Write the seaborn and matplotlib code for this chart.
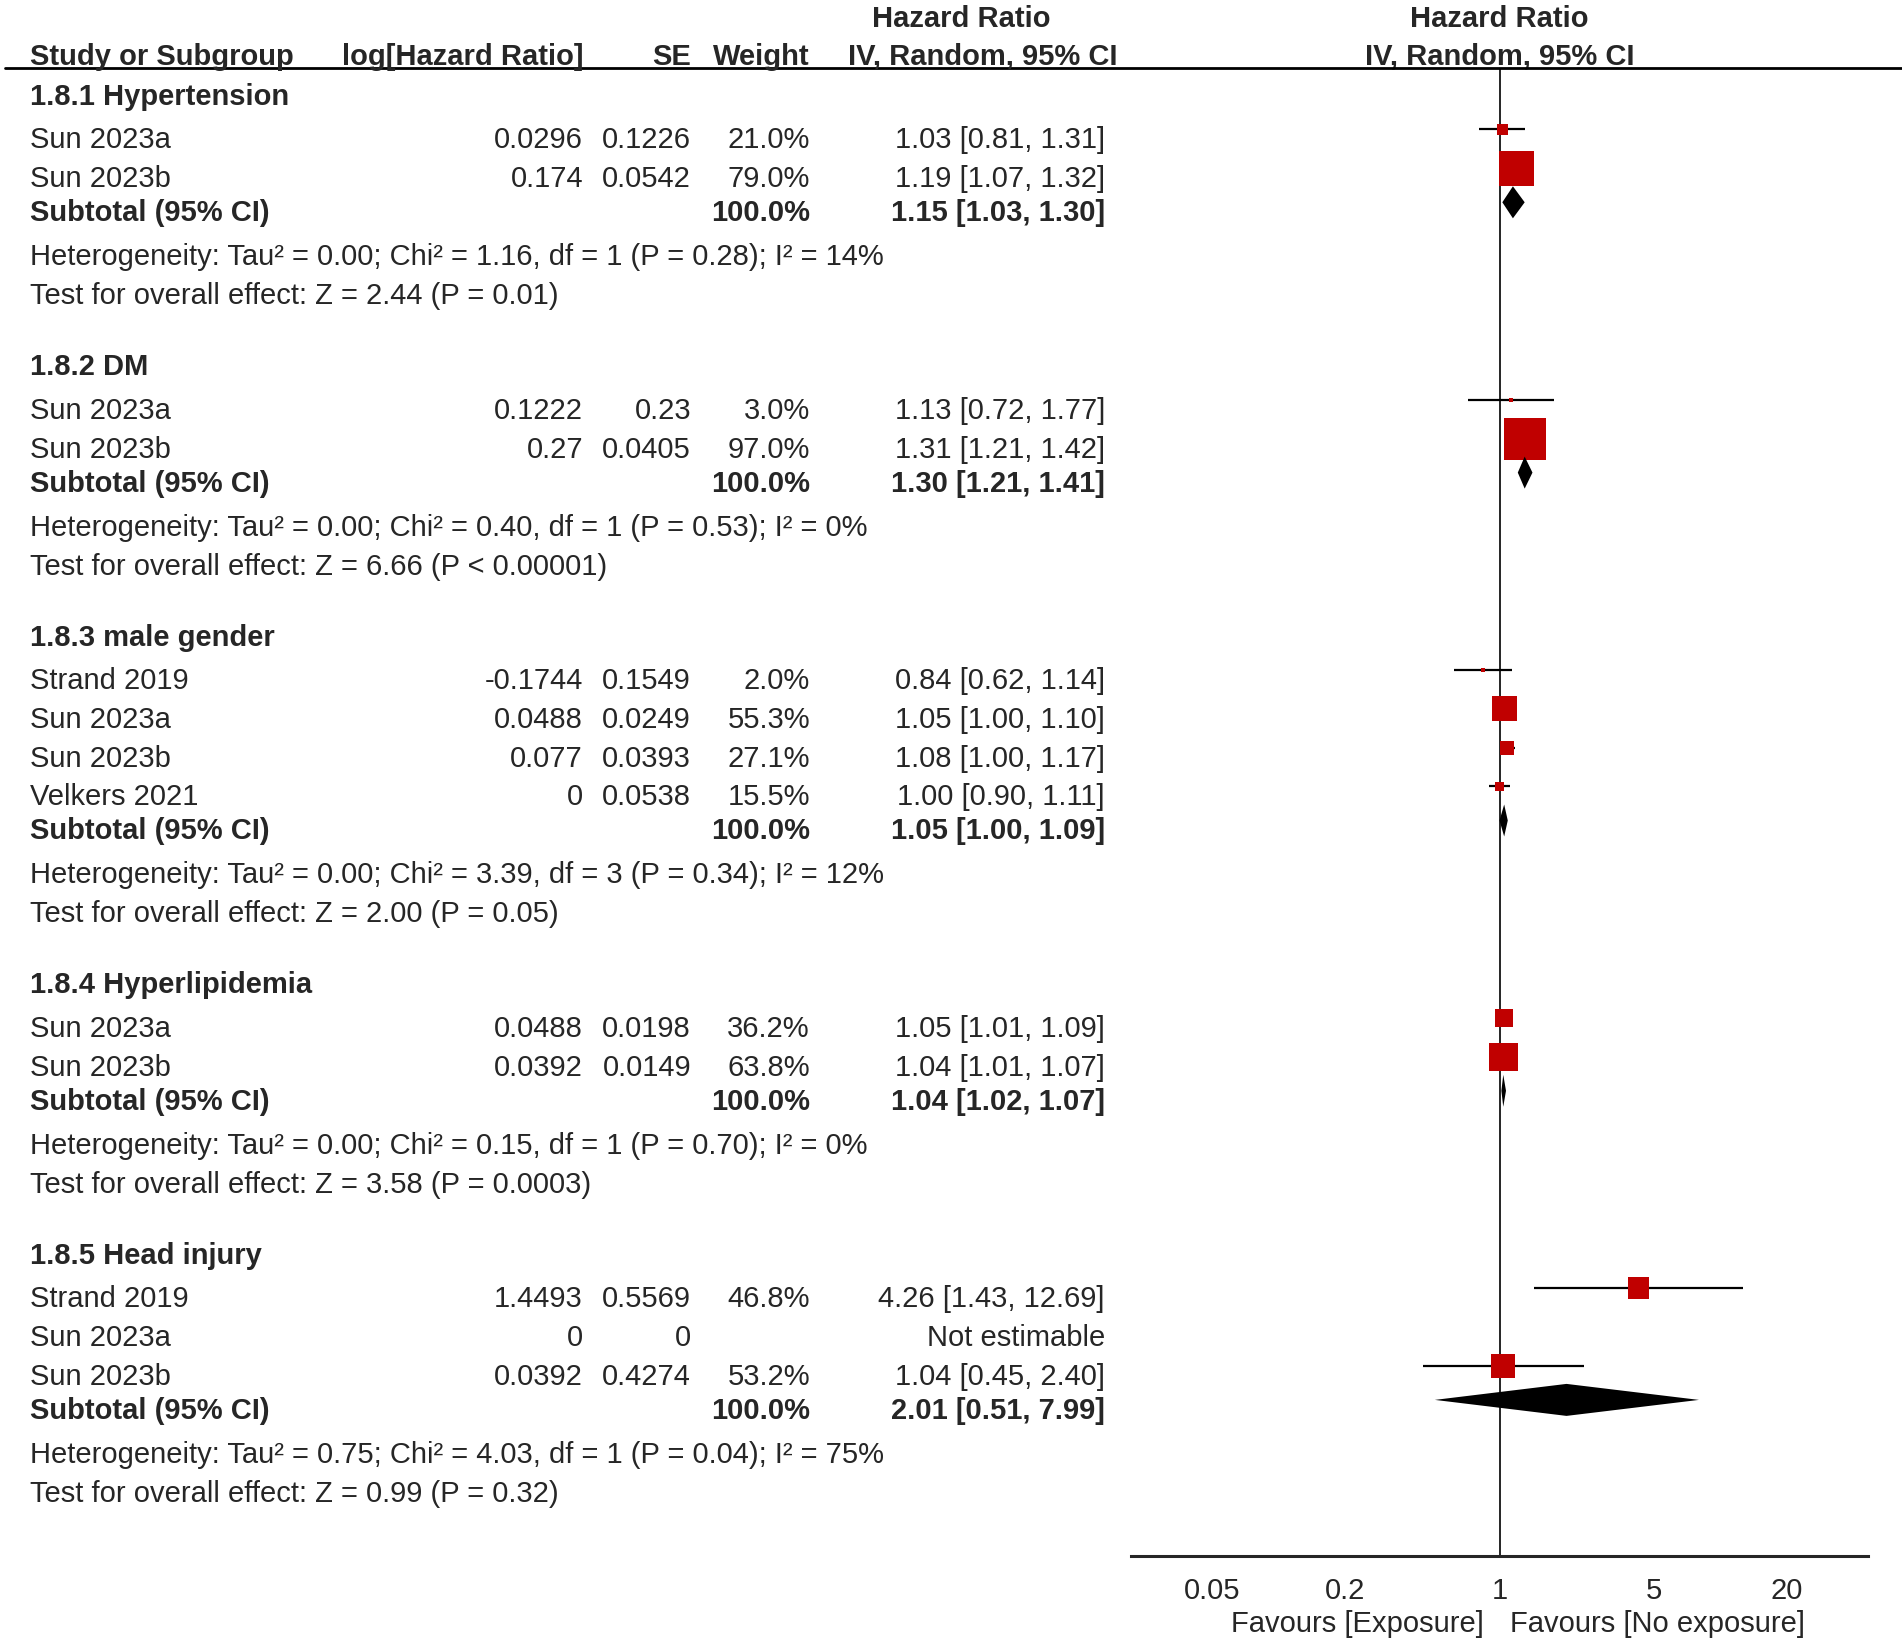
"""
Forest plot: risk factors (hazard ratios), RevMan style, drawn with seaborn/matplotlib.
"""

import numpy as np
import pandas as pd
import matplotlib
matplotlib.use("Agg")
import matplotlib.pyplot as plt
import matplotlib.transforms as mtransforms
from matplotlib.lines import Line2D
from matplotlib.ticker import NullLocator
import seaborn as sns

# ── Data ───────────────────────────────────────────────────────────────────────

GROUPS = ["1.8.1 Hypertension", "1.8.2 DM", "1.8.3 male gender",
          "1.8.4 Hyperlipidemia", "1.8.5 Head injury"]

STUDY_GROUP = [0, 0, 1, 1, 2, 2, 2, 2, 3, 3, 4, 4, 4]
STUDY_NAMES = ["Sun 2023a", "Sun 2023b",
               "Sun 2023a", "Sun 2023b",
               "Strand 2019", "Sun 2023a", "Sun 2023b", "Velkers 2021",
               "Sun 2023a", "Sun 2023b",
               "Strand 2019", "Sun 2023a", "Sun 2023b"]
LOG_HR = [0.0296, 0.174, 0.1222, 0.27, -0.1744, 0.0488, 0.077, 0,
          0.0488, 0.0392, 1.4493, 0, 0.0392]
SE = [0.1226, 0.0542, 0.23, 0.0405, 0.1549, 0.0249, 0.0393, 0.0538,
      0.0198, 0.0149, 0.5569, 0, 0.4274]
WEIGHT = [21.0, 79.0, 3.0, 97.0, 2.0, 55.3, 27.1, 15.5, 36.2, 63.8,
          46.8, np.nan, 53.2]
HR = [1.03, 1.19, 1.13, 1.31, 0.84, 1.05, 1.08, 1.00, 1.05, 1.04,
      4.26, np.nan, 1.04]
HR_LO = [0.81, 1.07, 0.72, 1.21, 0.62, 1.00, 1.00, 0.90, 1.01, 1.01,
         1.43, np.nan, 0.45]
HR_HI = [1.31, 1.32, 1.77, 1.42, 1.14, 1.10, 1.17, 1.11, 1.09, 1.07,
         12.69, np.nan, 2.40]

SUB_HR = [1.15, 1.30, 1.05, 1.04, 2.01]
SUB_LO = [1.03, 1.21, 1.00, 1.02, 0.51]
SUB_HI = [1.30, 1.41, 1.09, 1.07, 7.99]

HETEROGENEITY = [
    "Heterogeneity: Tau² = 0.00; Chi² = 1.16, df = 1 (P = 0.28); I² = 14%",
    "Heterogeneity: Tau² = 0.00; Chi² = 0.40, df = 1 (P = 0.53); I² = 0%",
    "Heterogeneity: Tau² = 0.00; Chi² = 3.39, df = 3 (P = 0.34); I² = 12%",
    "Heterogeneity: Tau² = 0.00; Chi² = 0.15, df = 1 (P = 0.70); I² = 0%",
    "Heterogeneity: Tau² = 0.75; Chi² = 4.03, df = 1 (P = 0.04); I² = 75%",
]
OVERALL_EFFECT = [
    "Test for overall effect: Z = 2.44 (P = 0.01)",
    "Test for overall effect: Z = 6.66 (P < 0.00001)",
    "Test for overall effect: Z = 2.00 (P = 0.05)",
    "Test for overall effect: Z = 3.58 (P = 0.0003)",
    "Test for overall effect: Z = 0.99 (P = 0.32)",
]

X_TICKS = [0.05, 0.2, 1, 5, 20]
X_TICK_LABELS = ["0.05", "0.2", "1", "5", "20"]
FAVOURS_LEFT = "Favours [Exposure]"
FAVOURS_RIGHT = "Favours [No exposure]"

# ── Layout (pixels of a 1902 x 1644 canvas) ───────────────────────────────────

W, H = 1902, 1644
TEXT_COLOR = "#262626"
RED = "#C00000"
FS = 21

HEADER_LINE_Y = 68
AXIS_Y = 1556
PLOT_LEFT, PLOT_RIGHT = 1131, 1868

COL_NAME = 30
COL_LOGHR = 583
COL_SE = 691
COL_WEIGHT = 810
COL_CI = 1105

STEP_HEADER = 43.5
STEP_STUDY = 38.8
STEP_SUBTOTAL = 34
STEP_HET = 44
STEP_TEST = 39
STEP_GROUP = 71
MARK_SHIFT = -9
BASE_SHIFT = 10


def row_positions():
    """Walk the table top to bottom and give the y of every row."""
    y = 95
    header_y, study_y, sub_y, het_y, test_y = [], [], [], [], []
    for g in range(len(GROUPS)):
        header_y.append(y)
        y += STEP_HEADER
        idx = [i for i, s in enumerate(STUDY_GROUP) if s == g]
        for k, _ in enumerate(idx):
            study_y.append(y)
            if k < len(idx) - 1:
                y += STEP_STUDY
        y += STEP_SUBTOTAL
        sub_y.append(y)
        y += STEP_HET
        het_y.append(y)
        y += STEP_TEST
        test_y.append(y)
        y += STEP_GROUP
    return header_y, study_y, sub_y, het_y, test_y


def fmt_ci(hr, lo, hi):
    return f"{hr:.2f} [{lo:.2f}, {hi:.2f}]"


def main():
    sns.set_style("white")
    plt.rcParams["font.family"] = ["Liberation Sans", "DejaVu Sans"]

    header_y, study_y, sub_y, het_y, test_y = row_positions()

    studies = pd.DataFrame({
        "group": STUDY_GROUP, "name": STUDY_NAMES, "loghr": LOG_HR, "se": SE,
        "weight": WEIGHT, "hr": HR, "lo": HR_LO, "hi": HR_HI, "y": study_y,
    })
    studies["mark_y"] = studies["y"] + MARK_SHIFT
    side_px = 2.8 + 0.404 * studies["weight"]
    studies["s"] = (side_px * 0.72) ** 2

    fig = plt.figure(figsize=(W / 100, H / 100), dpi=100)
    ax = fig.add_axes([PLOT_LEFT / W, 1 - AXIS_Y / H,
                       (PLOT_RIGHT - PLOT_LEFT) / W, (AXIS_Y - HEADER_LINE_Y) / H])
    ax.set_xscale("log")
    ax.set_xlim(0.0215, 1 / 0.0215)
    ax.set_ylim(AXIS_Y, HEADER_LINE_Y)

    # forest marks
    ax.axvline(1, color="black", lw=1.2, zorder=1)
    est = studies.dropna(subset=["hr"])
    ax.hlines(est["mark_y"], est["lo"], est["hi"], color="black", lw=1.6, zorder=2)
    sns.scatterplot(data=est, x="hr", y="mark_y", marker="s", s=est["s"].values,
                    color=RED, linewidth=0, ax=ax, zorder=3, legend=False)
    for g in range(len(GROUPS)):
        yc = sub_y[g] + MARK_SHIFT
        ax.fill([SUB_LO[g], SUB_HR[g], SUB_HI[g], SUB_HR[g]],
                [yc, yc - 16, yc, yc + 16], color="black", lw=0, zorder=3)

    # axis styling
    for side in ["top", "left", "right"]:
        ax.spines[side].set_visible(False)
    ax.spines["bottom"].set_linewidth(2.2)
    ax.set_xticks(X_TICKS)
    ax.set_xticklabels(X_TICK_LABELS)
    ax.xaxis.set_minor_locator(NullLocator())
    ax.set_yticks([])
    ax.set_xlabel("")
    ax.set_ylabel("")
    ax.tick_params(axis="x", direction="inout", length=14, width=2.0,
                   labelsize=FS, labelcolor=TEXT_COLOR, pad=8)
    ax.patch.set_alpha(0)

    ax.annotate(FAVOURS_LEFT, xy=(1, 0), xycoords=("data", "axes fraction"),
                xytext=(-16, -(1622 + BASE_SHIFT - AXIS_Y)), textcoords="offset pixels",
                ha="right", va="baseline", fontsize=FS, color=TEXT_COLOR)
    ax.annotate(FAVOURS_RIGHT, xy=(1, 0), xycoords=("data", "axes fraction"),
                xytext=(10, -(1622 + BASE_SHIFT - AXIS_Y)), textcoords="offset pixels",
                ha="left", va="baseline", fontsize=FS, color=TEXT_COLOR)

    # table text: x in figure pixels, y in row units
    trans = mtransforms.blended_transform_factory(
        mtransforms.Affine2D().scale(1 / W, 1) + fig.transFigure, ax.transData)

    def put(x, y, s, ha="left", bold=False):
        fig.text(x, y + BASE_SHIFT, s, transform=trans, ha=ha, va="baseline",
                 fontsize=FS, color=TEXT_COLOR,
                 fontweight="bold" if bold else "normal")

    # column headers
    hdr_base = 65 - BASE_SHIFT
    put(COL_NAME, hdr_base, "Study or Subgroup", bold=True)
    put(COL_LOGHR, hdr_base, "log[Hazard Ratio]", ha="right", bold=True)
    put(COL_SE, hdr_base, "SE", ha="right", bold=True)
    put(COL_WEIGHT, hdr_base, "Weight", ha="right", bold=True)
    put(1117, hdr_base, "IV, Random, 95% CI", ha="right", bold=True)
    put(961, 27 - BASE_SHIFT, "Hazard Ratio", ha="center", bold=True)
    ax.text(1, 27, "Hazard Ratio", ha="center", va="baseline", fontsize=FS,
            fontweight="bold", color=TEXT_COLOR)
    ax.text(1, 65, "IV, Random, 95% CI", ha="center", va="baseline", fontsize=FS,
            fontweight="bold", color=TEXT_COLOR)

    fig.add_artist(Line2D([5 / W, 1], [1 - HEADER_LINE_Y / H] * 2,
                          transform=fig.transFigure, color="black", lw=2.0))

    for g, name in enumerate(GROUPS):
        put(COL_NAME, header_y[g], name, bold=True)
        put(COL_NAME, sub_y[g], "Subtotal (95% CI)", bold=True)
        put(COL_WEIGHT, sub_y[g], "100.0%", ha="right", bold=True)
        put(COL_CI, sub_y[g], fmt_ci(SUB_HR[g], SUB_LO[g], SUB_HI[g]), ha="right", bold=True)
        put(COL_NAME, het_y[g], HETEROGENEITY[g])
        put(COL_NAME, test_y[g], OVERALL_EFFECT[g])

    for _, r in studies.iterrows():
        put(COL_NAME, r["y"], r["name"])
        put(COL_LOGHR, r["y"], f"{r['loghr']:g}", ha="right")
        put(COL_SE, r["y"], f"{r['se']:g}", ha="right")
        if np.isnan(r["hr"]):
            put(COL_CI, r["y"], "Not estimable", ha="right")
        else:
            put(COL_WEIGHT, r["y"], f"{r['weight']:.1f}%", ha="right")
            put(COL_CI, r["y"], fmt_ci(r["hr"], r["lo"], r["hi"]), ha="right")

    fig.savefig("out.png", dpi=100, facecolor="white")
    plt.close(fig)


if __name__ == "__main__":
    main()
